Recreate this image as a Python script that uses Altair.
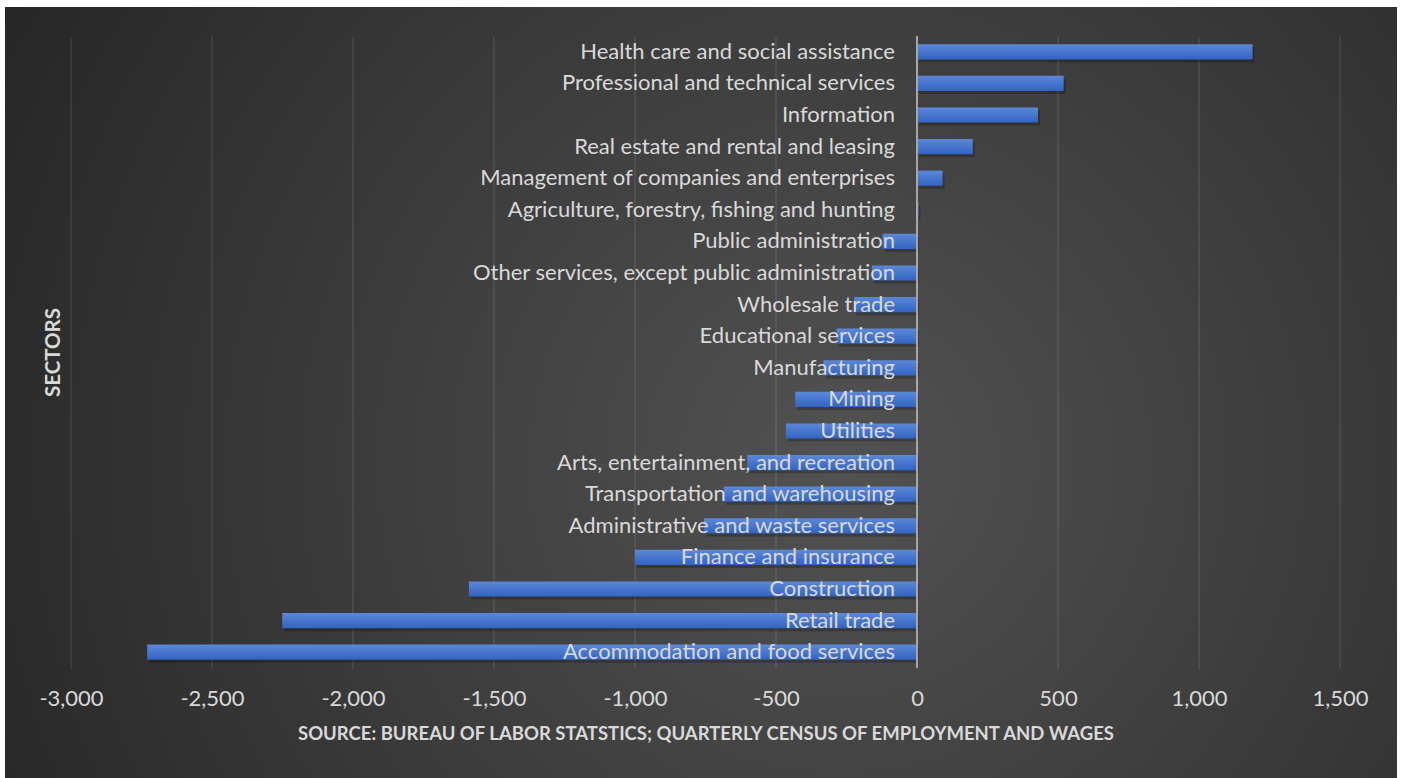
import altair as alt
import pandas as pd

sectors = [
    "Health care and social assistance",
    "Professional and technical services",
    "Information",
    "Real estate and rental and leasing",
    "Management of companies and enterprises",
    "Agriculture, forestry, fishing and hunting",
    "Public administration",
    "Other services, except public administration",
    "Wholesale trade",
    "Educational services",
    "Manufacturing",
    "Mining",
    "Utilities",
    "Arts, entertainment, and recreation",
    "Transportation and warehousing",
    "Administrative and waste services",
    "Finance and insurance",
    "Construction",
    "Retail trade",
    "Accommodation and food services",
]
values = [1190, 520, 429, 198, 91, 5, -122, -160, -223, -285, -332, -432,
          -465, -602, -685, -756, -1000, -1589, -2251, -2730]
x_ticks = [-3000, -2500, -2000, -1500, -1000, -500, 0, 500, 1000, 1500]

df = pd.DataFrame({"sector": sectors, "value": values})
grid_df = pd.DataFrame({"tick": [t for t in x_ticks if t != 0]})

W, H = 1269, 632
PAD_L, PAD_T = 71, 36
TXT = "#d9d9d9"

xscale = alt.Scale(domain=[-3000, 1500], nice=False, zero=False)
yscale = alt.Scale(domain=sectors, paddingInner=0.52, paddingOuter=0.26)

bg = alt.Chart(alt.Data(values=[{"a": 1}])).mark_rect(
    color=alt.RadialGradient(
        gradient="radial", x1=0.6, y1=0.55, x2=0.6, y2=0.55, r1=0, r2=0.72,
        stops=[alt.GradientStop(offset=0, color="#525252"),
               alt.GradientStop(offset=1, color="#242424")],
    )
).encode(
    x=alt.value(5 - PAD_L), x2=alt.value(1397 - PAD_L),
    y=alt.value(7 - PAD_T), y2=alt.value(778 - PAD_T),
)

grid = alt.Chart(grid_df).mark_rule(
    color="#ffffff", opacity=0.1, strokeWidth=1.5
).encode(x=alt.X("tick:Q", scale=xscale), y=alt.value(1), y2=alt.value(H + 1))

base = alt.Chart(df)

shadow = base.mark_bar(color="#000000", opacity=0.22, xOffset=2, yOffset=3).encode(
    x=alt.X("value:Q", scale=xscale),
    y=alt.Y("sector:N", scale=yscale),
)

bars = base.mark_bar(
    color=alt.LinearGradient(
        gradient="linear", x1=0, y1=0, x2=0, y2=1,
        stops=[alt.GradientStop(offset=0, color="#5c88d8"),
               alt.GradientStop(offset=1, color="#3264c2")],
    )
).encode(
    x=alt.X(
        "value:Q", scale=xscale,
        axis=alt.Axis(
            values=x_ticks, grid=False, domain=False, ticks=False, zindex=1,
            labelFlush=False, labelOverlap=False,
            labelExpr="replace(format(datum.value, ','), '\u2212', '-')",
            labelFont="Lato", labelFontSize=22, labelColor=TXT, labelPadding=20,
            title="SOURCE: BUREAU OF LABOR STATSTICS; QUARTERLY CENSUS OF EMPLOYMENT AND WAGES",
            titleFont="Lato", titleFontWeight="bold", titleFontSize=18.5,
            titleColor=TXT, titlePadding=15,
        ),
    ),
    y=alt.Y(
        "sector:N", scale=yscale,
        axis=alt.Axis(
            labels=False, ticks=False, domain=False, grid=False, zindex=1,
            title="SECTORS", titleFont="Lato", titleFontWeight="bold",
            titleFontSize=20.5, titleColor=TXT, titleAngle=270,
            titleX=53 - PAD_L, titleY=352 - PAD_T, titleAlign="center",
            titleBaseline="middle",
        ),
    ),
)

zero = alt.Chart(alt.Data(values=[{"z": 0}])).mark_rule(
    color="#a6a6a6", strokeWidth=2
).encode(x=alt.X("z:Q", scale=xscale), y=alt.value(0), y2=alt.value(H))

labels = base.mark_text(
    align="right", baseline="middle", dx=-22, font="Lato", fontSize=22, color=TXT
).encode(
    x=alt.X("zero_x:Q", scale=xscale),
    y=alt.Y("sector:N", scale=yscale),
    text="sector:N",
).transform_calculate(zero_x="0")

chart = alt.layer(bg, grid, shadow, bars, zero, labels).properties(
    width=W, height=H,
    autosize=alt.AutoSizeParams(type="none"),
    padding={"left": PAD_L, "top": PAD_T, "right": 1403 - PAD_L - W, "bottom": 778 - PAD_T - H},
    background="#ffffff",
).configure_view(stroke=None)

chart.save("out.html", embed_options={"renderer": "svg", "actions": False})
